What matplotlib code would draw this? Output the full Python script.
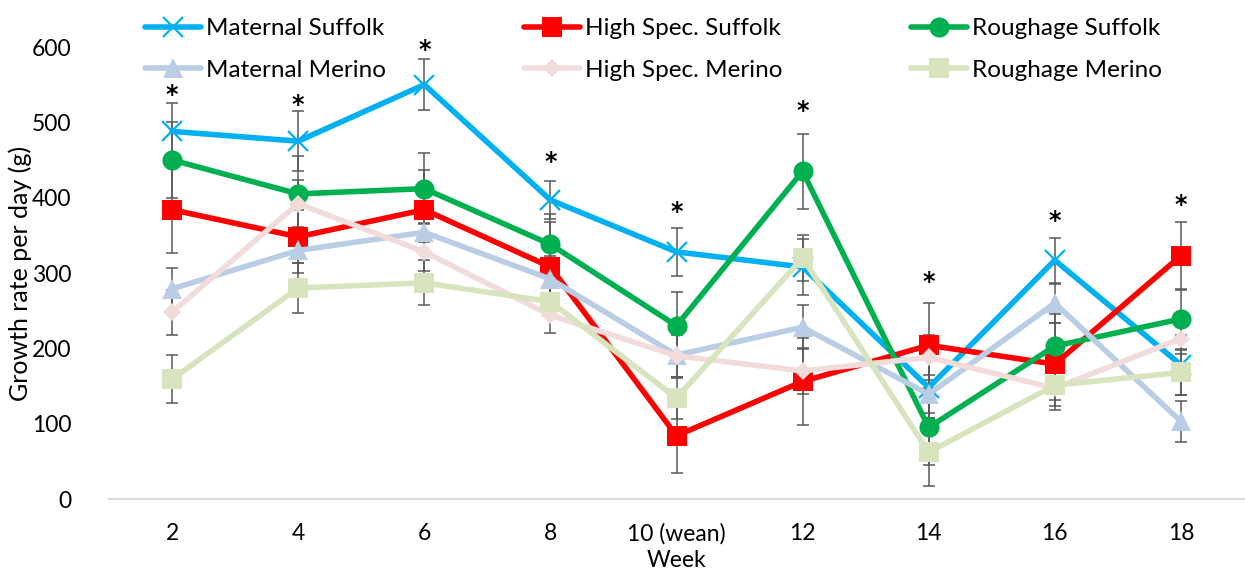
import matplotlib
matplotlib.use("Agg")
import matplotlib.pyplot as plt

plt.rcParams["font.family"] = ["Lato", "DejaVu Sans"]

weeks = ["2", "4", "6", "8", "10 (wean)", "12", "14", "16", "18"]

maternal_suffolk = [488, 475, 550, 397, 328, 308, 148, 317, 178]
high_spec_suffolk = [384, 348, 384, 308, 84, 156, 204, 179, 323]
roughage_suffolk = [450, 405, 412, 338, 230, 435, 95, 203, 239]
maternal_merino = [279, 330, 354, 292, 191, 228, 139, 260, 103]
high_spec_merino = [248, 392, 328, 244, 190, 170, 188, 147, 213]
roughage_merino = [159, 280, 287, 262, 134, 320, 62, 151, 168]

maternal_suffolk_err = [38, 40, 34, 25, 32, 37, 40, 30, 40]
high_spec_suffolk_err = [57, 35, 53, 60, 50, 58, 56, 55, 45]
roughage_suffolk_err = [50, 50, 47, 40, 45, 50, 50, 43, 40]
maternal_merino_err = [28, 30, 13, 30, 30, 29, 25, 26, 27]
high_spec_merino_err = [30, 31, 25, 23, 28, 30, 30, 16, 20]
roughage_merino_err = [32, 33, 30, 20, 28, 31, 45, 33, 30]

# height of the significance asterisk above each week
star_y = [543, 530, 603, 455, 388, 523, 295, 376, 398]

series = [
    ("Maternal Suffolk", maternal_suffolk, maternal_suffolk_err,
     dict(color="#00B0F0", marker="x", ms=14, mew=1.6)),
    ("High Spec. Suffolk", high_spec_suffolk, high_spec_suffolk_err,
     dict(color="#FF0000", marker="s", ms=14.5, mew=0)),
    ("Roughage Suffolk", roughage_suffolk, roughage_suffolk_err,
     dict(color="#00B050", marker="o", ms=14.5, mew=0)),
    ("Maternal Merino", maternal_merino, maternal_merino_err,
     dict(color="#B9CDE5", marker="^", ms=14.5, mew=0)),
    ("High Spec. Merino", high_spec_merino, high_spec_merino_err,
     dict(color="#F2DCDB", marker="D", ms=9.5, mew=0)),
    ("Roughage Merino", roughage_merino, roughage_merino_err,
     dict(color="#D7E4BD", marker="s", ms=14.5, mew=0)),
]

fig = plt.figure(figsize=(12.45, 5.70), dpi=100)
ax = fig.add_axes([109 / 1245, 71 / 570, 1135 / 1245, 452 / 570])

x = list(range(len(weeks)))
handles = {}
for i, (name, vals, errs, style) in enumerate(series):
    ax.errorbar(x, vals, yerr=errs, fmt="none", ecolor="#595959",
                elinewidth=1.1, capsize=4.2, capthick=1.1, zorder=1)
    line, = ax.plot(x, vals, lw=4, solid_capstyle="round",
                    solid_joinstyle="round", zorder=2 + i, label=name,
                    **style)
    handles[name] = line

for xi, sy in zip(x, star_y):
    ax.annotate("*", (xi, sy), xytext=(0, -4), textcoords="offset points",
                ha="center", va="center", fontsize=17, fontweight="bold",
                color="black", family="DejaVu Sans", zorder=20,
                annotation_clip=False)

ax.set_xlim(-0.5, len(weeks) - 0.5)
ax.set_ylim(0, 600)
ax.set_yticks(range(0, 601, 100))
ax.set_xticks(x)
ax.set_xticklabels(weeks)
ax.tick_params(axis="both", length=0, labelsize=16.5, colors="black")
ax.tick_params(axis="y", pad=27)
ax.tick_params(axis="x", pad=17)
for side in ("left", "right", "top"):
    ax.spines[side].set_visible(False)
ax.spines["bottom"].set_color("#D9D9D9")
ax.spines["bottom"].set_linewidth(1.5)

ax.set_ylabel("Growth rate per day (g)", fontsize=18, va="center")
ax.yaxis.set_label_coords(-89 / 1135, 0.5)
ax.set_xlabel("Week", fontsize=16.5, labelpad=4)

columns = [
    ("Maternal Suffolk", "Maternal Merino"),
    ("High Spec. Suffolk", "High Spec. Merino"),
    ("Roughage Suffolk", "Roughage Merino"),
]
col_x = [145, 524, 911]
for cx, names in zip(col_x, columns):
    fig.legend([handles[n] for n in names], list(names),
               loc="upper left", bbox_to_anchor=(cx / 1245, 1 - 18 / 570),
               frameon=False, fontsize=17.5, handlelength=2.3,
               handletextpad=0.2, labelspacing=0.85, borderpad=0,
               borderaxespad=0)

fig.savefig("out.png", dpi=100)
